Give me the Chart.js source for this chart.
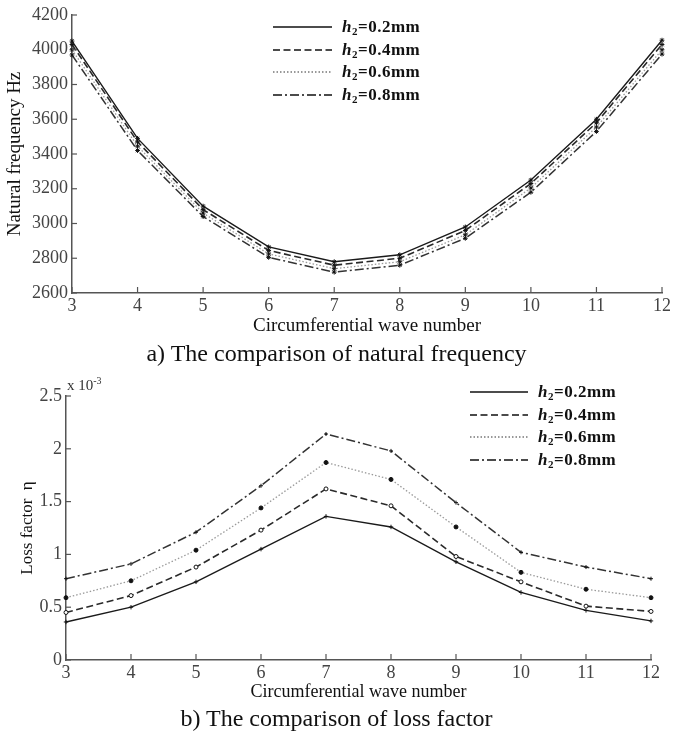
<!DOCTYPE html>
<html>
<head>
<meta charset="utf-8">
<script src="https://cdn.jsdelivr.net/npm/chart.js@4/dist/chart.umd.min.js"></script>
<style>
  html, body { margin: 0; padding: 0; background: #fff; }
  #wrap { position: relative; width: 673px; height: 737px; background: #fff; overflow: hidden; font-family: "Liberation Serif", "DejaVu Serif", serif; }
  canvas { position: absolute; left: 0; }
  #c1 { top: 0; }
  #c2 { top: 370px; }
  .caption { position: absolute; left: 0; width: 673px; text-align: center; font-size: 24px; color: #111; line-height: 28px; }
  .legend { position: absolute; font-family: "Liberation Serif", serif; font-weight: bold; font-size: 17px; color: #111; }
  .legend .row { display: flex; align-items: center; height: 22.5px; }
  .legend svg { display: block; margin-right: 10px; }
  .legend sub { font-size: 11px; vertical-align: -3px; line-height: 0; }
  .legend .t { letter-spacing: 0.5px; }
  #sci { position: absolute; left: 67px; top: 377px; font-size: 15px; color: #333; }
  #sci sup { font-size: 10px; vertical-align: 6px; line-height: 0; }
</style>
</head>
<body>
<div id="wrap">
  <canvas id="c1" width="673" height="340"></canvas>
  <div class="caption" style="top:339px;">a) The comparison of natural frequency</div>
  <canvas id="c2" width="673" height="335"></canvas>
  <div id="sci">x 10<sup>-3</sup></div>
  <div class="caption" style="top:704px;">b) The comparison of loss factor</div>
  <div class="legend" id="leg1" style="left:273px; top:16px;"></div>
  <div class="legend" id="leg2" style="left:470px; top:381px;"></div>
</div>
<script>
// ---------- data ----------
const waveNumbers = ['3','4','5','6','7','8','9','10','11','12'];
const seriesNames = ['0.2mm','0.4mm','0.6mm','0.8mm'];

const freqH02 = [4050, 3490, 3100, 2865, 2780, 2820, 2980, 3250, 3600, 4055];
const freqH04 = [4030, 3470, 3080, 2845, 2760, 2800, 2960, 3230, 3580, 4030];
const freqH06 = [4000, 3445, 3060, 2825, 2740, 2780, 2935, 3205, 3555, 4000];
const freqH08 = [3970, 3420, 3040, 2805, 2720, 2760, 2915, 3180, 3530, 3975];

const lossH02 = [0.36, 0.50, 0.74, 1.05, 1.36, 1.26, 0.93, 0.64, 0.47, 0.37];
const lossH04 = [0.45, 0.61, 0.88, 1.23, 1.62, 1.46, 0.98, 0.74, 0.51, 0.46];
const lossH06 = [0.59, 0.75, 1.04, 1.44, 1.87, 1.71, 1.26, 0.83, 0.67, 0.59];
const lossH08 = [0.77, 0.91, 1.21, 1.65, 2.14, 1.98, 1.49, 1.02, 0.88, 0.77];

const freqTicks = { min: 2600, max: 4200, step: 200 };
const lossTicks = { min: 0, max: 2.5, step: 0.5 };

// ---------- styles ----------
const lineStyles = [
  { color: '#1a1a1a', dash: [], width: 1.4 },
  { color: '#2a2a2a', dash: [7, 3.5], width: 1.6 },
  { color: '#9a9a9a', dash: [1.5, 2], width: 1.3 },
  { color: '#333333', dash: [9, 3, 2, 3], width: 1.5 }
];
const lossPoints = [
  { style: 'cross', r: 2.2, fill: '#222' },
  { style: 'circle', r: 2.0, fill: '#fff' },
  { style: 'circle', r: 2.0, fill: '#111' },
  { style: 'cross', r: 2.0, fill: '#222' }
];

const serif = '"Liberation Serif", "DejaVu Serif", serif';

function makeDatasets(arrays, pts) {
  return arrays.map((d, i) => ({
    label: 'h2=' + seriesNames[i],
    data: d,
    borderColor: lineStyles[i].color,
    borderDash: lineStyles[i].dash,
    borderWidth: lineStyles[i].width,
    tension: 0,
    fill: false,
    pointStyle: pts ? pts[i].style : 'star',
    pointRadius: pts ? pts[i].r : 2.4,
    pointBorderWidth: 1,
    pointBackgroundColor: pts ? pts[i].fill : '#222',
    pointBorderColor: '#111'
  }));
}

const innerTicks = {
  id: 'innerTicks',
  afterDraw(chart) {
    const ctx = chart.ctx;
    const xs = chart.scales.x, ys = chart.scales.y;
    ctx.save();
    ctx.strokeStyle = '#555';
    ctx.lineWidth = 1.2;
    ctx.setLineDash([]);
    xs.ticks.forEach((t, i) => {
      const px = xs.getPixelForTick(i);
      ctx.beginPath(); ctx.moveTo(px, xs.top); ctx.lineTo(px, xs.top - 6); ctx.stroke();
    });
    ys.ticks.forEach((t, i) => {
      const py = ys.getPixelForTick(i);
      ctx.beginPath(); ctx.moveTo(ys.right, py); ctx.lineTo(ys.right + 5, py); ctx.stroke();
    });
    ctx.restore();
  }
};

function makeChart(id, arrays, pts, cfg) {
  return new Chart(document.getElementById(id), {
    type: 'line',
    data: { labels: waveNumbers, datasets: makeDatasets(arrays, pts) },
    options: {
      responsive: false,
      animation: false,
      devicePixelRatio: 1,
      layout: { padding: cfg.padding },
      plugins: { legend: { display: false }, tooltip: { enabled: false } },
      scales: {
        x: {
          offset: false,
          grid: { display: false, drawTicks: false },
          border: { display: true, color: '#555', width: 1.5 },
          ticks: { color: '#444', font: { family: serif, size: 18 }, padding: 2, maxRotation: 0 },
          title: { display: true, text: 'Circumferential wave number', color: '#111',
                   font: { family: serif, size: cfg.xTitleSize }, padding: { top: 0, bottom: cfg.xTitlePad } },
          afterFit(s) { s.height = cfg.xHeight; }
        },
        y: {
          min: cfg.ticks.min, max: cfg.ticks.max,
          grid: { display: false, drawTicks: false },
          border: { display: true, color: '#555', width: 1.5 },
          ticks: { stepSize: cfg.ticks.step, color: '#444', font: { family: serif, size: 18 }, padding: 4,
                   callback: (v) => String(v) },
          title: { display: true, text: cfg.yTitle, color: '#111',
                   font: { family: serif, size: cfg.yTitleSize }, padding: { top: cfg.yTitlePad, bottom: 0 } },
          afterFit(s) { s.width = cfg.yWidth; }
        }
      }
    },
    plugins: [innerTicks]
  });
}

const chart1 = makeChart('c1', [freqH02, freqH04, freqH06, freqH08], null, {
  padding: { top: 15, right: 10, left: 0, bottom: 0 },
  ticks: freqTicks, yTitle: 'Natural frequency Hz', yTitleSize: 19, yTitlePad: 4,
  yWidth: 72, xHeight: 47, xTitleSize: 19, xTitlePad: 3
});
const chart2 = makeChart('c2', [lossH02, lossH04, lossH06, lossH08], lossPoints, {
  padding: { top: 26, right: 22, left: 0, bottom: 0 },
  ticks: lossTicks, yTitle: 'Loss factor  η', yTitleSize: 17, yTitlePad: 17,
  yWidth: 66, xHeight: 45, xTitleSize: 18, xTitlePad: 2
});

// ---------- HTML legends built from the datasets ----------
function buildLegend(chart, elId, w) {
  const el = document.getElementById(elId);
  chart.data.datasets.forEach((ds, i) => {
    const row = document.createElement('div');
    row.className = 'row';
    const svgNS = 'http://www.w3.org/2000/svg';
    const svg = document.createElementNS(svgNS, 'svg');
    svg.setAttribute('width', w); svg.setAttribute('height', 6);
    const ln = document.createElementNS(svgNS, 'line');
    ln.setAttribute('x1', 0); ln.setAttribute('x2', w);
    ln.setAttribute('y1', 3); ln.setAttribute('y2', 3);
    ln.setAttribute('stroke', ds.borderColor === '#9a9a9a' ? '#777' : '#111');
    ln.setAttribute('stroke-width', ds.borderWidth);
    if (ds.borderDash.length) ln.setAttribute('stroke-dasharray', ds.borderDash.join(' '));
    svg.appendChild(ln);
    row.appendChild(svg);
    const txt = document.createElement('span');
    txt.className = 't';
    txt.innerHTML = '<i>h</i><sub>2</sub>=' + seriesNames[i].replace('mm', '') + 'mm';
    row.appendChild(txt);
    el.appendChild(row);
  });
}
buildLegend(chart1, 'leg1', 59);
buildLegend(chart2, 'leg2', 58);
</script>
</body>
</html>
